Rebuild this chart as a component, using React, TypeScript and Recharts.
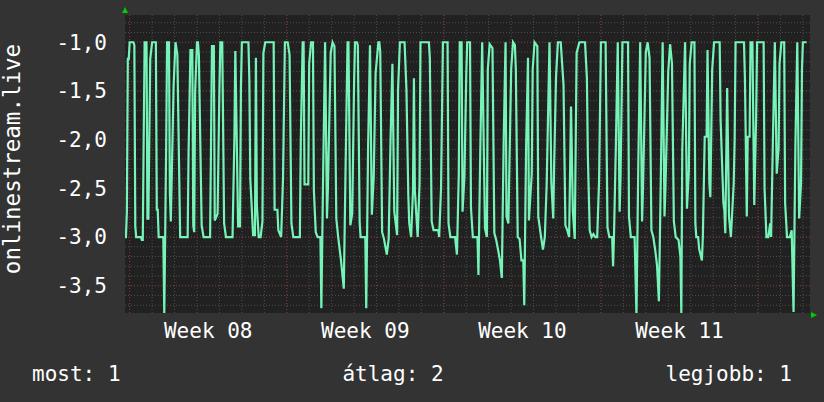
import { LineChart, Line, XAxis, YAxis, CartesianGrid } from "recharts"

// hours since the left edge of the graph, and the value read at that hour
const hours = [
  0, 1, 2, 3, 4, 5, 9, 10, 11, 12,
  17, 18, 19, 20, 21, 23, 24, 25, 27, 29,
  33, 34, 35, 36, 41, 42, 44, 45, 47, 48,
  49, 52, 54, 56, 59, 67, 68, 70, 72, 73,
  74, 75, 77, 78, 79, 82, 84, 91, 92, 93,
  95, 96, 99, 101, 102, 104, 106, 108, 115, 117,
  118, 121, 123, 124, 125, 132, 133, 134, 137, 139,
  140, 141, 143, 145, 147, 148, 150, 159, 160, 163,
  164, 167, 169, 171, 174, 176, 178, 180, 187, 188,
  190, 191, 192, 196, 197, 199, 201, 202, 204, 206,
  209, 210, 212, 214, 216, 217, 220, 222, 224, 226,
  228, 231, 234, 236, 238, 239, 241, 243, 245, 246,
  248, 249, 251, 252, 257, 258, 260, 262, 264, 266,
  268, 271, 272, 273, 275, 277, 280, 282, 284, 286,
  288, 291, 292, 294, 299, 301, 303, 304, 306, 308,
  309, 310, 313, 315, 316, 325, 326, 328, 330, 335,
  336, 338, 340, 345, 346, 348, 353, 355, 357, 358,
  360, 361, 363, 365, 366, 369, 370, 372, 377, 378,
  380, 382, 385, 387, 388, 390, 393, 395, 397, 399,
  401, 403, 405, 407, 408, 410, 413, 415, 417, 418,
  420, 422, 424, 426, 427, 429, 431, 432, 435, 436,
  438, 441, 442, 445, 447, 449, 451, 454, 456, 458,
  459, 461, 463, 466, 469, 471, 473, 475, 477, 479,
  481, 483, 486, 492, 494, 495, 497, 499, 501, 503,
  505, 507, 509, 514, 516, 518, 521, 522, 523, 525,
  527, 529, 530, 532, 538, 539, 541, 545, 547, 549,
  551, 553, 554, 557, 559, 561, 563, 565, 567, 569,
  571, 573, 575, 577, 578, 581, 583, 585, 587, 589,
  592, 594, 595, 596, 599, 601, 603, 604, 606, 609,
  610, 611, 613, 614, 617, 618, 620, 622, 623, 625,
  626, 628, 630, 636, 637, 640, 641, 642, 644, 646,
  648, 651, 652, 653, 662, 663, 665, 666, 668, 669,
  671, 673, 675, 676, 683, 684, 686, 688, 690, 691,
  693, 695, 697, 699, 700, 702, 705, 706, 708, 711,
  713, 715, 717, 719, 721, 723, 724, 725, 729,
]

const values = [
  -3.0, -3.0, -2.74, -1.17, -1.17, -1.0, -1.0, -1.03, -2.89, -3.0,
  -3.0, -3.03, -3.03, -1.97, -1.0, -1.0, -2.81, -2.81, -1.17, -1.0,
  -1.0, -2.72, -2.72, -3.0, -3.0, -3.8, -2.1, -1.0, -1.0, -2.55,
  -2.84, -1.44, -1.0, -1.13, -3.0, -3.0, -2.12, -1.08, -1.08, -2.88,
  -2.95, -1.51, -1.0, -1.0, -1.13, -2.88, -3.0, -3.0, -2.05, -1.04,
  -1.04, -2.83, -2.76, -1.47, -1.0, -1.0, -2.86, -3.0, -3.0, -1.97,
  -1.09, -2.89, -2.89, -1.46, -1.0, -1.0, -1.39, -2.4, -2.98, -2.98,
  -1.16, -2.67, -3.0, -3.0, -2.84, -1.11, -1.0, -1.0, -2.72, -2.72,
  -2.93, -3.0, -2.4, -1.0, -1.0, -1.13, -2.86, -3.0, -3.0, -2.02,
  -1.0, -1.0, -2.46, -2.46, -1.22, -1.0, -1.0, -2.52, -2.95, -3.0,
  -3.0, -3.73, -2.29, -1.0, -2.81, -2.5, -1.11, -1.0, -1.04, -2.81,
  -3.0, -3.24, -3.53, -2.23, -1.0, -1.0, -2.88, -2.76, -1.42, -1.0,
  -1.0, -1.03, -2.86, -3.0, -3.0, -3.73, -2.07, -1.03, -2.77, -2.38,
  -1.32, -1.0, -1.0, -1.1, -2.95, -3.02, -3.18, -3.02, -2.0, -1.22,
  -2.74, -2.98, -1.49, -1.0, -1.0, -1.49, -2.57, -2.86, -3.0, -2.52,
  -1.37, -2.52, -3.0, -2.45, -1.0, -1.0, -1.16, -2.84, -2.93, -2.93,
  -3.0, -2.5, -1.0, -1.0, -2.86, -3.0, -3.0, -3.18, -2.35, -1.0,
  -1.0, -2.74, -2.38, -1.32, -1.0, -1.0, -2.7, -3.0, -3.0, -3.39,
  -2.1, -1.0, -2.91, -3.0, -1.28, -1.02, -1.06, -2.96, -3.03, -3.13,
  -3.24, -3.42, -2.0, -1.0, -2.79, -2.86, -1.28, -1.0, -1.03, -1.28,
  -3.0, -3.02, -3.24, -3.24, -3.7, -2.07, -1.16, -2.83, -2.35, -1.28,
  -1.0, -1.04, -2.79, -3.0, -3.13, -3.0, -2.45, -1.0, -2.45, -2.81,
  -2.24, -1.35, -1.0, -1.0, -1.44, -2.88, -2.93, -3.0, -1.66, -2.74,
  -3.02, -1.11, -1.0, -1.0, -1.37, -2.16, -2.93, -3.0, -2.97, -3.0,
  -3.0, -2.43, -1.0, -1.0, -2.9, -3.0, -3.0, -3.3, -2.97, -2.05,
  -1.0, -2.74, -2.38, -1.0, -1.0, -2.79, -3.0, -3.0, -3.8, -2.23,
  -1.0, -2.84, -2.5, -1.1, -1.0, -1.16, -2.93, -3.0, -3.13, -3.29,
  -3.66, -2.43, -1.0, -2.79, -2.5, -1.3, -1.02, -1.22, -2.84, -3.0,
  -3.03, -3.2, -3.78, -2.1, -1.0, -2.71, -2.33, -1.22, -1.0, -1.0,
  -2.86, -3.0, -3.0, -3.12, -3.24, -3.0, -1.97, -1.97, -1.08, -2.45,
  -2.59, -1.28, -1.0, -1.0, -1.8, -2.65, -2.72, -2.96, -1.47, -2.79,
  -3.0, -2.45, -2.0, -1.0, -1.0, -1.37, -2.79, -1.97, -1.97, -1.0,
  -1.0, -2.67, -1.76, -1.0, -1.0, -2.5, -3.0, -3.0, -2.86, -3.0,
  -1.97, -1.0, -2.35, -2.09, -1.22, -1.0, -1.0, -2.65, -3.0, -3.0,
  -2.93, -3.77, -2.05, -1.0, -2.81, -2.45, -1.28, -1.0, -1.0,
]

const weekTicks = [89, 257, 425, 593]
const weekLabels = ["Week 08", "Week 09", "Week 10", "Week 11"]
const weekStarts = [5, 173, 341, 509, 677]
const valueTicks = [-3.5, -3, -2.5, -2, -1.5, -1]

const seriesName = "onlinestream.live"
const summary = [
  { label: "most", value: 1 },
  { label: "átlag", value: 2 },
  { label: "legjobb", value: 1 },
]

const data = hours.map((h, i) => ({ h, v: values[i] }))

// day lines every 24h, tenths on the value axis
const dayLines = Array.from({ length: 31 }, (_, i) => weekStarts[0] + i * 24)
const tenthLines = Array.from({ length: 30 }, (_, i) => Math.round(-37 + i) / 10)

const FONT = "DejaVu Sans Mono"
const BG = "#333333"
const PLOT_BG = "#212121"
const LINE = "#76f4b8"
const ARROW = "#00cc00"

const fmtValue = (v: number) => v.toFixed(1).replace(".", ",")
const fmtWeek = (v: number) => weekLabels[weekTicks.indexOf(v)] ?? ""

export default function App() {
  return (
    <div
      style={{
        position: "fixed",
        left: 0,
        top: 0,
        width: 824,
        height: 402,
        background: BG,
        fontFamily: FONT,
      }}
    >
      <LineChart width={824} height={402} data={data} margin={{ top: 15, right: 14, left: 0, bottom: 59 }}>
        <CartesianGrid
          fill={PLOT_BG}
          stroke="#4e4e4e"
          strokeDasharray="1 2"
          horizontalValues={tenthLines}
          verticalValues={dayLines}
        />
        <CartesianGrid
          stroke="#7e3232"
          strokeDasharray="1 2"
          horizontalValues={valueTicks}
          verticalValues={weekStarts}
        />
        <XAxis
          dataKey="h"
          type="number"
          domain={[0, 732.6]}
          allowDataOverflow
          ticks={weekTicks}
          interval={0}
          tickFormatter={fmtWeek}
          axisLine={false}
          tickLine={false}
          tickSize={0}
          tickMargin={10}
          height={30}
          tick={{ fill: "#ffffff", fontSize: 21, fontFamily: FONT }}
        />
        <YAxis
          type="number"
          domain={[-3.78, -0.72]}
          allowDataOverflow
          ticks={valueTicks}
          interval={0}
          tickFormatter={fmtValue}
          axisLine={false}
          tickLine={false}
          tickSize={0}
          tickMargin={18}
          width={125}
          tick={{ fill: "#ffffff", fontSize: 21, fontFamily: FONT }}
        />
        <Line
          type="linear"
          dataKey="v"
          stroke={LINE}
          strokeWidth={2.2}
          dot={false}
          activeDot={false}
          isAnimationActive={false}
        />
      </LineChart>
      <svg
        width={824}
        height={402}
        style={{ position: "absolute", left: 0, top: 0, pointerEvents: "none" }}
        fontFamily={FONT}
        fontSize={21}
        fill="#ffffff"
      >
        <text transform="translate(20,159) rotate(-90)" textAnchor="middle" fontSize={22.5}>
          {seriesName}
        </text>
        <polygon points="122,13 128,13 125,7" fill={ARROW} />
        <polygon points="811,312 811,318 817,315" fill={ARROW} />
        <text x={32} y={381} textAnchor="start">
          {summary[0].label}: {summary[0].value}
        </text>
        <text x={393} y={381} textAnchor="middle">
          {summary[1].label}: {summary[1].value}
        </text>
        <text x={792} y={381} textAnchor="end">
          {summary[2].label}: {summary[2].value}
        </text>
      </svg>
    </div>
  )
}
